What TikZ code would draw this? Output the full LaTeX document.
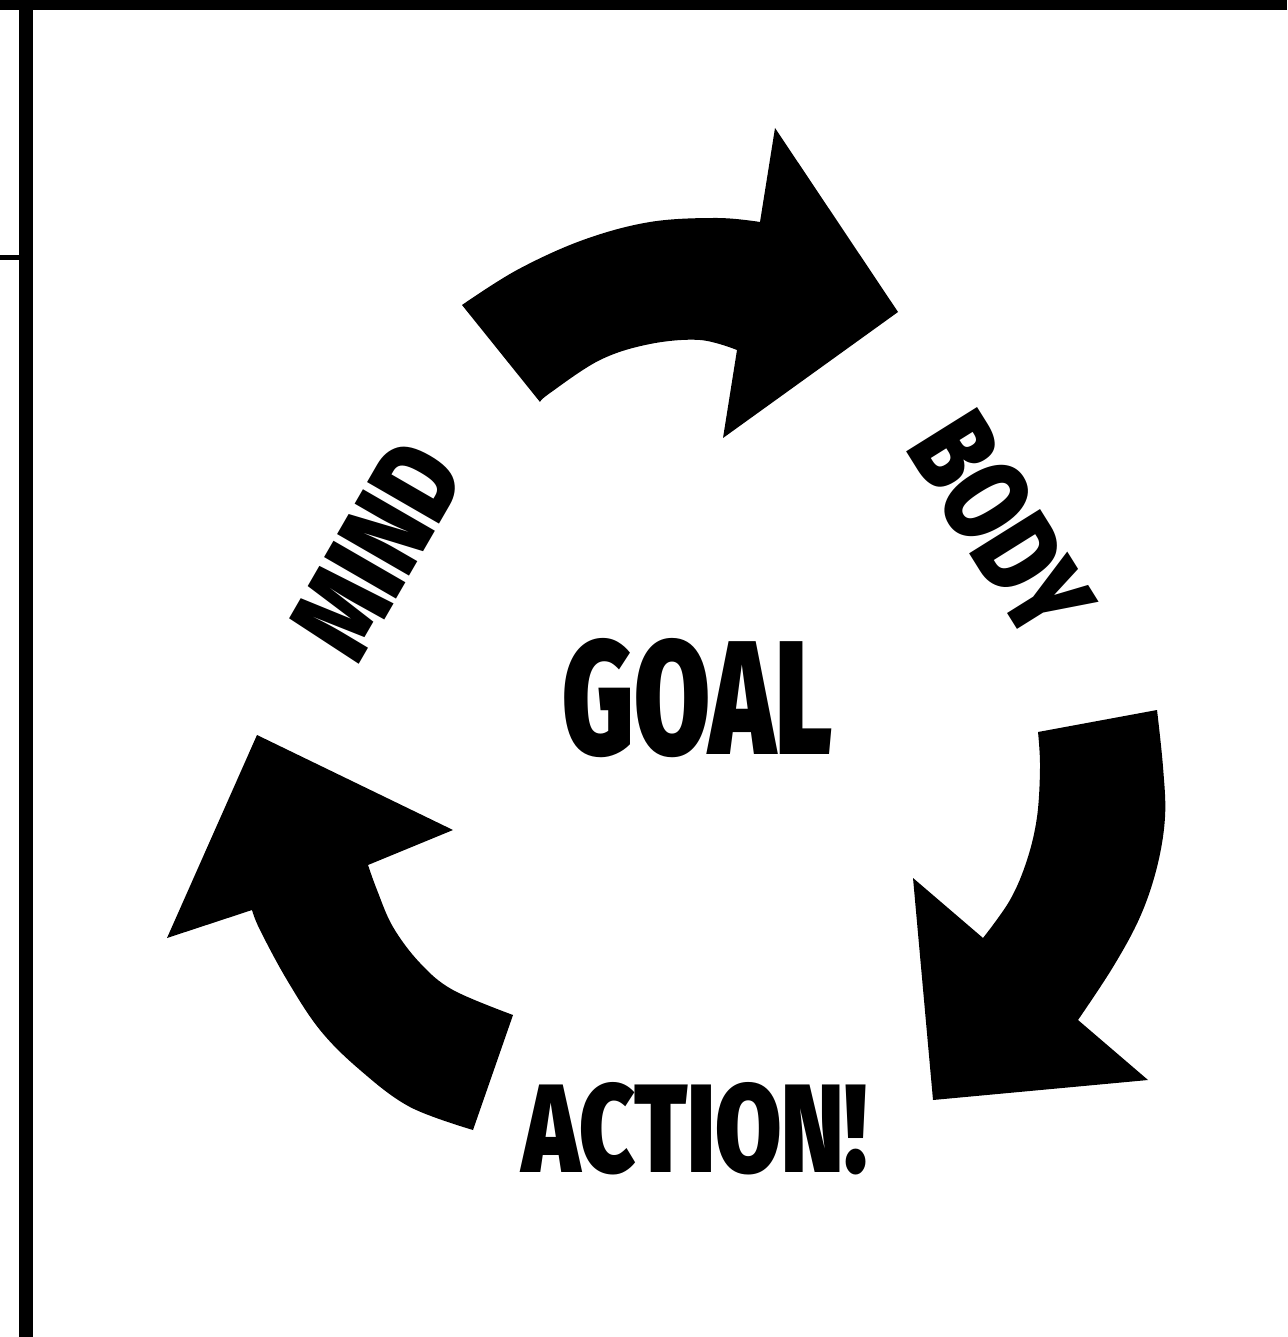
\documentclass[tikz,border=0pt]{standalone}
\usepackage{fontspec}
\usepackage{tikz}
\usetikzlibrary{positioning}
\newfontfamily\impactfont{Fira Sans Black}
\newcommand{\squeeze}[3]{\resizebox{#1}{#2}{#3}}

\begin{document}
\begin{tikzpicture}[x=0.01cm,y=-0.01cm,
    cyclearrow/.style={fill=black},
    word/.style={inner sep=0pt,text=black,font=\impactfont}]
    \useasboundingbox (0,0) rectangle (1287,1337);
    \fill[white] (0,0) rectangle (1287,1337);

    % Draw frame lines
    \fill[black] (0,0) rectangle (1287,10);
    \fill[black] (19,0) rectangle (33,1337);
    \fill[black] (0,255) rectangle (22,260);

    % Top arrow (mind -> body)
    \fill[cyclearrow] (540,402) -- (462,305)
        -- plot[smooth,tension=0.6] coordinates {(462,305) (517,270) (583,240) (650,222) (717,218) (760,222)}
        -- (775,128) -- (898,312) -- (723,438) -- (737,350)
        -- plot[smooth,tension=0.6] coordinates {(737,350) (700,340) (650,344) (600,360) (550,393) (540,402)}
        -- cycle;

    % Right arrow (body -> action)
    \fill[cyclearrow] (1038,732) -- (1157,710)
        -- plot[smooth,tension=0.6] coordinates {(1157,710) (1163,767) (1165,817) (1157,867) (1140,917) (1113,967) (1078,1020)}
        -- (1148,1080) -- (933,1100) -- (913,878) -- (983,938)
        -- plot[smooth,tension=0.6] coordinates {(983,938) (1010,900) (1027,860) (1037,817) (1040,767) (1038,732)}
        -- cycle;

    % Left arrow (action -> mind)
    \fill[cyclearrow] (257,735) -- (453,830) -- (368,865)
        -- plot[smooth,tension=0.6] coordinates {(368,865) (377,890) (393,927) (420,963) (453,990) (513,1015)}
        -- (473,1130)
        -- plot[smooth,tension=0.6] coordinates {(473,1130) (410,1107) (360,1070) (320,1030) (287,980) (260,930) (252,910)}
        -- (167,938) -- cycle;

    % Labels
    \node[word] (goal) at (698,698) {\squeeze{2.70cm}{1.16cm}{GOAL}};
    \node[word] (action) at (695,1129) {\squeeze{3.45cm}{0.90cm}{ACTION!}};
    \node[word,rotate=60] (mind) at (377,550) {\squeeze{2.19cm}{0.83cm}{MIND}};
    \node[word,rotate=-58] (body) at (1001,525) {\squeeze{2.32cm}{0.86cm}{BODY}};
\end{tikzpicture}
\end{document}
